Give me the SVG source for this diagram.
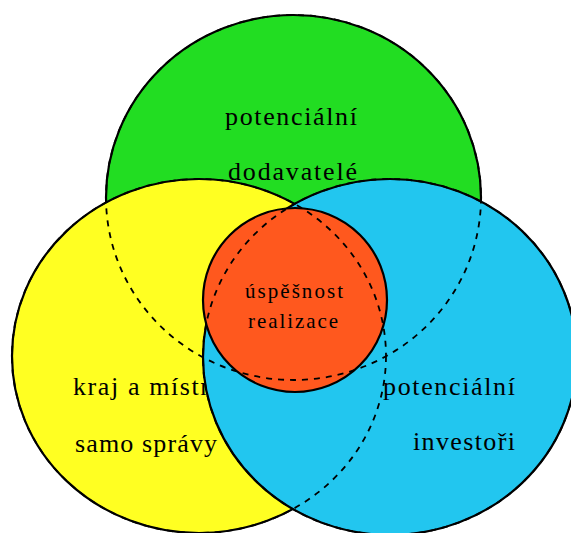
<svg xmlns="http://www.w3.org/2000/svg" width="571" height="533" viewBox="0 0 571 533">
<style>
.shape{stroke:#000;stroke-width:2.2}
.hid{fill:none;stroke:#000;stroke-width:1.8;stroke-dasharray:6 6}
.lbl{font-family:"Liberation Serif","Times New Roman",serif;fill:#000}
.big{font-size:26px}
.small{font-size:21px}
</style>
<rect width="571" height="533" fill="#fff"/>
<g id="dodavatele">
<ellipse class="shape" cx="293.5" cy="197.5" rx="187.5" ry="182.5" fill="#22dd22"/>
<text class="lbl big" x="225" y="125" textLength="132" lengthAdjust="spacing">potenciální</text>
<text class="lbl big" x="228" y="180" textLength="129" lengthAdjust="spacing">dodavatelé</text>
</g>
<g id="kraj">
<ellipse class="shape" cx="199" cy="356" rx="187" ry="177" fill="#ffff22"/>
<text class="lbl big" x="73" y="395" letter-spacing="1.6">kraj a místní</text>
<text class="lbl big" x="75" y="452" textLength="142" lengthAdjust="spacing">samo správy</text>
</g>
<g id="investori">
<ellipse class="shape" cx="390" cy="357" rx="187" ry="178" fill="#22c6ef"/>
<text class="lbl big" x="383" y="395" textLength="132" lengthAdjust="spacing">potenciální</text>
<text class="lbl big" x="413" y="450" textLength="102" lengthAdjust="spacing">investoři</text>
</g>
<g id="uspesnost">
<circle class="shape" cx="295" cy="300" r="92" fill="#ff581e"/>
<text class="lbl small" x="245" y="298" textLength="98" lengthAdjust="spacing">úspěšnost</text>
<text class="lbl small" x="248" y="328" textLength="90" lengthAdjust="spacing">realizace</text>
</g>
<g id="connectors">
<ellipse class="hid" cx="293.5" cy="197.5" rx="187.5" ry="182.5"/>
<ellipse class="hid" cx="199" cy="356" rx="187" ry="177"/>
<ellipse class="hid" cx="390" cy="357" rx="187" ry="178"/>
</g>
</svg>
